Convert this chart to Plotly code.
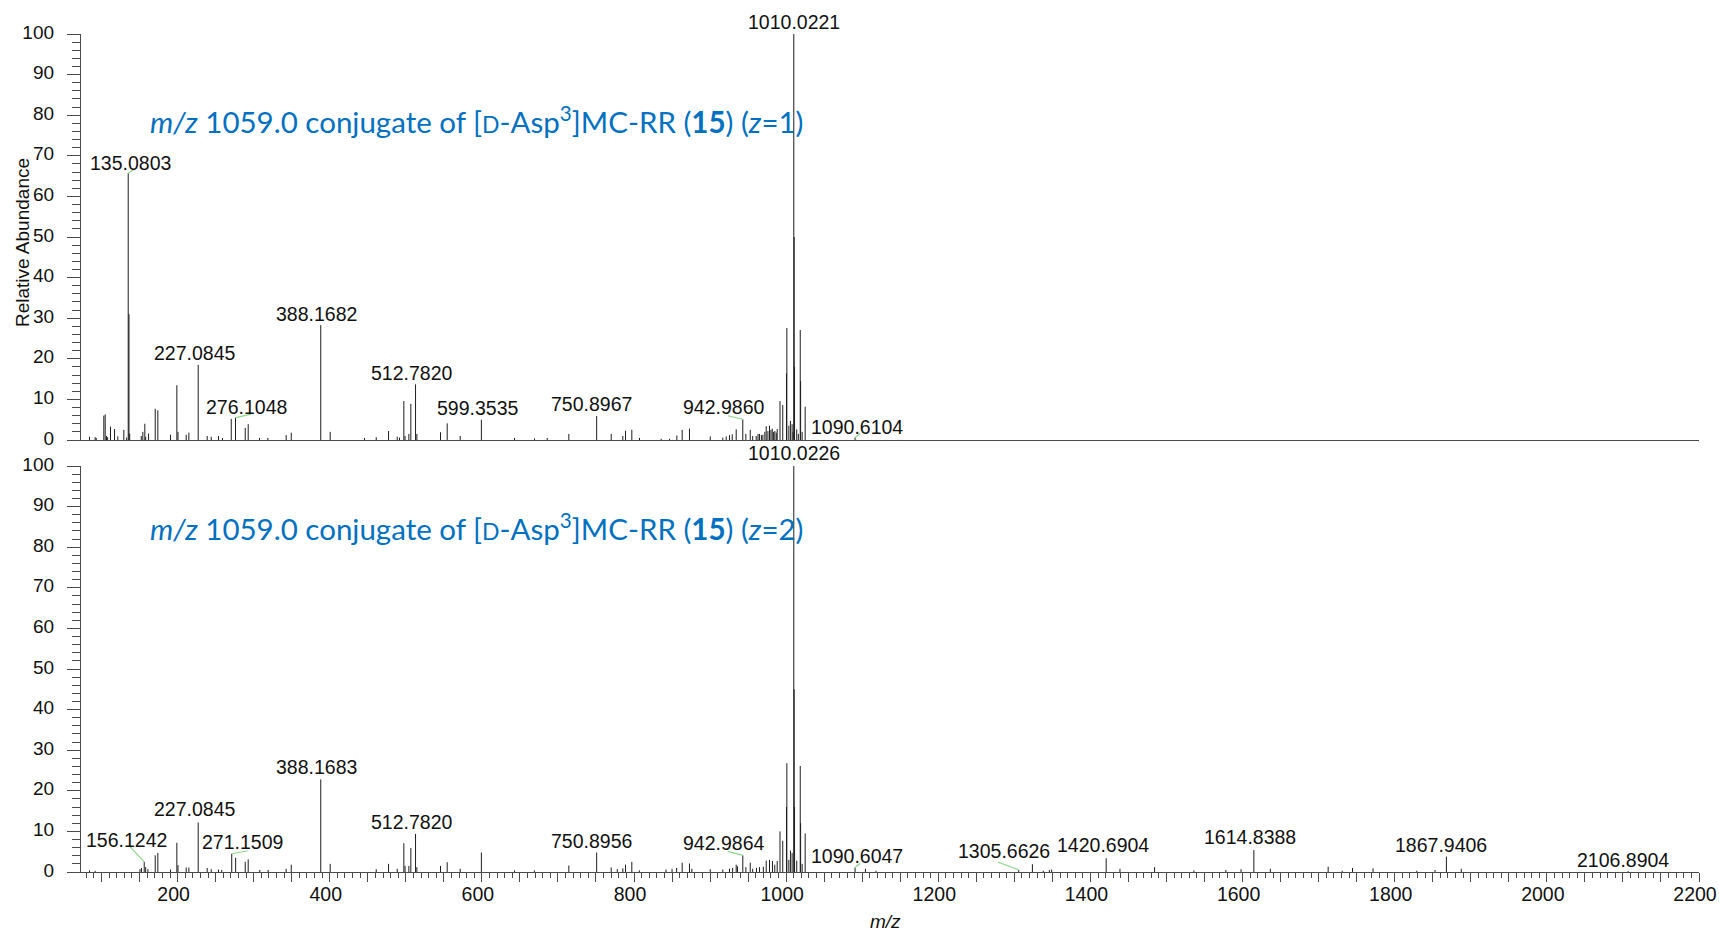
import plotly.graph_objects as go

# ---------------- spectrum data (m/z, relative abundance %) ----------------
# z = 1 precursor
mz_z1 = [84.2, 91.6, 93.0, 103.0, 104.8, 106.5, 108.0, 111.8, 117.1, 121.4, 129.3, 133.0,
         135.0803, 136.08, 137.0, 152.2, 154.3, 156.9, 158.0, 161.8, 170.6, 174.0, 190.7,
         199.0, 200.5, 211.3, 214.8, 227.0845, 238.9, 244.2, 253.8, 259.0, 270.5, 276.1048,
         288.9, 292.8, 307.7, 318.6, 342.7, 349.4, 388.1682, 400.6, 445.7, 461.1, 477.3,
         488.7, 491.7, 497.4, 499.0, 504.0, 506.6, 512.7820, 514.5, 545.6, 554.4, 571.5,
         599.3535, 642.9, 669.2, 685.9, 714.3, 750.8967, 770.0, 785.3, 788.8, 797.1, 807.2,
         835.7, 846.7, 856.3, 863.3, 872.9, 900.2, 916.7, 921.2, 925.5, 929.1, 934.3,
         942.9860, 947.0, 952.8, 956.0, 960.6, 963.0, 965.0, 967.5, 969.4, 972.0, 973.8,
         976.0, 978.1, 980.0, 981.7, 983.5, 985.1, 987.0, 988.2, 991.9, 995.5, 1000.4,
         1000.9, 1003.5, 1005.6, 1007.8, 1009.0, 1010.0221, 1010.52, 1011.02, 1013.9,
         1016.0, 1018.5, 1019.0, 1021.0, 1025.0, 1090.6104]
int_z1 = [0.8, 0.7, 0.5, 6.0, 6.3, 1.0, 0.7, 3.3, 2.7, 0.9, 2.5, 0.6,
          65.7, 31.0, 1.6, 1.0, 2.0, 4.0, 0.8, 1.6, 7.7, 7.3, 1.3,
          13.5, 2.0, 1.3, 1.8, 18.5, 1.0, 0.8, 1.0, 0.5, 5.2, 5.5,
          3.0, 3.9, 0.5, 0.5, 1.2, 1.8, 28.3, 2.0, 0.5, 0.7, 2.2,
          0.8, 0.6, 9.6, 1.0, 1.5, 8.9, 13.7, 1.5, 1.9, 4.1, 1.0,
          5.0, 0.5, 0.4, 0.5, 1.5, 5.9, 1.5, 1.0, 2.3, 2.5, 0.5,
          0.3, 0.3, 1.1, 2.5, 2.8, 0.9, 0.6, 0.9, 1.2, 1.4, 2.6,
          5.1, 1.5, 2.5, 1.0, 1.0, 1.5, 1.5, 1.2, 1.3, 2.0, 3.4,
          2.2, 3.5, 2.5, 2.8, 2.0, 2.2, 1.8, 2.7, 9.6, 8.6, 16.4,
          27.6, 3.5, 4.7, 3.9, 2.0, 100.0, 50.0, 18.0, 2.6,
          1.5, 27.1, 14.5, 2.0, 8.2, 0.6]

# z = 2 precursor
mz_z2 = [84.2, 91.6, 150.5, 152.5, 156.1242, 158.0, 161.0, 170.6, 174.0, 190.7, 199.0,
         200.5, 211.3, 214.8, 227.0845, 238.9, 244.2, 253.8, 258.0, 271.1509, 276.3, 288.9,
         292.8, 308.0, 319.0, 342.7, 349.4, 388.1683, 400.6, 461.1, 477.3, 488.7, 497.4,
         499.0, 504.0, 506.6, 512.7820, 514.5, 545.6, 554.4, 571.5, 599.35, 642.9, 669.0,
         714.3, 750.8956, 770.0, 778.0, 785.3, 788.8, 797.1, 807.0, 842.0, 850.0, 856.0,
         863.3, 872.9, 876.0, 900.2, 916.7, 925.5, 929.6, 934.3, 936.0, 942.9864, 947.0,
         952.8, 956.0, 961.0, 965.0, 970.0, 973.8, 978.1, 982.0, 985.0, 988.2, 991.9, 995.5,
         1000.4, 1000.9, 1003.5, 1005.6, 1007.8, 1010.0226, 1010.52, 1011.02, 1013.9,
         1018.5, 1019.0, 1021.0, 1025.0, 1090.6047, 1104.2, 1118.0, 1305.6626, 1323.7,
         1338.0, 1346.0, 1349.0, 1420.6904, 1438.8, 1484.3, 1536.0, 1578.0, 1598.0,
         1614.8388, 1636.5, 1712.5, 1731.0, 1744.5, 1771.5, 1829.0, 1853.0, 1867.9406,
         1887.5, 2106.8904]
int_z2 = [0.4, 0.3, 0.7, 1.0, 2.5, 1.2, 0.7, 4.1, 4.7, 0.6, 7.2,
          1.7, 1.1, 1.1, 12.2, 1.0, 0.7, 0.6, 0.5, 4.5, 3.5, 2.5,
          3.1, 0.5, 0.5, 0.8, 1.8, 22.8, 2.0, 0.7, 2.0, 0.8, 7.1,
          1.5, 1.5, 5.9, 9.4, 1.2, 1.5, 2.4, 0.8, 4.8, 0.4, 0.4,
          1.6, 4.8, 1.1, 0.7, 0.9, 1.8, 2.5, 0.4, 0.6, 0.8, 1.0,
          2.3, 2.1, 0.8, 0.7, 0.6, 0.8, 1.0, 1.8, 1.4, 4.1, 1.2,
          2.3, 0.8, 1.0, 1.2, 1.3, 2.8, 3.0, 2.7, 1.8, 2.7, 10.0, 7.7,
          16.0, 26.8, 3.0, 5.3, 4.7, 100.0, 45.0, 16.0, 2.8,
          26.1, 12.0, 2.0, 9.5, 1.1, 0.8, 0.3, 0.5, 1.9,
          0.3, 0.5, 0.6, 3.4, 0.8, 1.2, 0.4, 0.5, 0.7,
          5.4, 0.8, 1.3, 0.3, 1.0, 0.9, 0.3, 0.5, 3.8,
          0.8, 0.2]

# annotated peaks
labels_z1 = [1010.0221, 135.0803, 388.1682, 227.0845, 276.1048, 512.7820, 599.3535,
             750.8967, 942.9860, 1090.6104]
labels_z2 = [1010.0226, 388.1683, 227.0845, 512.7820, 156.1242, 271.1509, 750.8956,
             942.9864, 1090.6047, 1305.6626, 1420.6904, 1614.8388, 1867.9406, 2106.8904]

x_tick_labels = [200, 400, 600, 800, 1000, 1200, 1400, 1600, 1800, 2000, 2200]
y_tick_labels = [0, 10, 20, 30, 40, 50, 60, 70, 80, 90, 100]

titles = ["<i>m/z</i> 1059.0 conjugate of [<span style='font-size:23px'>D</span>-Asp<sup>3</sup>]MC-RR (<b>15</b>) (<i>z</i>=1)",
          "<i>m/z</i> 1059.0 conjugate of [<span style='font-size:23px'>D</span>-Asp<sup>3</sup>]MC-RR (<b>15</b>) (<i>z</i>=2)"]

# ---------------- label placement (pixel offsets from peak apex) ----------------
label_offsets_z1 = [(0, 12), (2, 10), (-4, 11), (-4, 12), (11, 11), (-4, 11), (-4, 12),
                    (-5, 12), (-19, 12), (2, 11)]
leaders_z1 = {135.0803: (6, 4), 276.1048: (16, 3.5), 942.9860: (-15, 3.5), 1090.6104: (5, 4)}
label_offsets_z2 = [(0, 13), (-4, 12), (-4, 13), (-4, 12), (-18, 22), (11, 12), (-5, 12),
                    (-19, 12), (2, 12), (-15, 19), (-3, 13), (-4, 13), (-5, 12), (-5, 11)]
leaders_z2 = {156.1242: (-15, 16), 271.1509: (16, 3), 942.9864: (-15, 4),
              1090.6047: (5, 4), 1305.6626: (-21, 8)}

# ---------------- geometry ----------------
W, H = 1719, 931
PX_L, PX_R = 81, 1699
PANELS = [(440, 34), (872, 466)]  # (y of 0 %, y of 100 %) in pixels
TITLE_Y = [120, 527]
X_RANGE = [73, 2200]
AXIS_COLOR = "#4a4a4a"
STICK_COLOR = "#1e1e1e"
LEADER_COLOR = "#8fd68f"
TITLE_COLOR = "#0070C0"
FONT = "Liberation Sans, Arial, sans-serif"


def sticks(mz, inten):
    xs, ys = [], []
    for m, i in zip(mz, inten):
        xs += [m, m, None]
        ys += [0, i, None]
    return xs, ys


fig = go.Figure()

spectra = [(mz_z1, int_z1, labels_z1, label_offsets_z1, leaders_z1),
           (mz_z2, int_z2, labels_z2, label_offsets_z2, leaders_z2)]

annotations = []
shapes = []
for k, (mz, inten, labs, offs, leads) in enumerate(spectra):
    xref = "x" if k == 0 else "x2"
    yref = "y" if k == 0 else "y2"
    xs, ys = sticks(mz, inten)
    fig.add_trace(go.Scatter(x=xs, y=ys, mode="lines", xaxis=xref, yaxis=yref,
                             line=dict(color=STICK_COLOR, width=1), hoverinfo="skip",
                             showlegend=False))
    lookup = dict(zip(mz, inten))
    for m, (dx, dy) in zip(labs, offs):
        annotations.append(dict(x=m, y=lookup[m], xref=xref, yref=yref, text=f"{m:.4f}",
                                showarrow=False, xanchor="center", yanchor="middle",
                                xshift=dx, yshift=dy,
                                font=dict(family=FONT, size=19.5, color="#111111")))
        if m in leads:
            lx, ly = leads[m]
            shapes.append(dict(type="line", xref=xref, yref=yref, xsizemode="pixel",
                               ysizemode="pixel", xanchor=m, yanchor=lookup[m],
                               x0=0, y0=0, x1=lx, y1=ly,
                               line=dict(color=LEADER_COLOR, width=1.2)))
    annotations.append(dict(x=148 / W, y=1 - TITLE_Y[k] / H, xref="paper", yref="paper",
                            text=titles[k], showarrow=False, xanchor="left",
                            yanchor="middle",
                            font=dict(family="Lato, Carlito, sans-serif", size=29.5,
                                      color=TITLE_COLOR)))

annotations.append(dict(x=22 / W, y=1 - 243 / H, xref="paper", yref="paper",
                        text="Relative Abundance", textangle=-90, showarrow=False,
                        xanchor="center", yanchor="middle",
                        font=dict(family=FONT, size=19, color="#111111")))
annotations.append(dict(x=886 / W, y=1 - 921 / H, xref="paper", yref="paper",
                        text="<i>m/z</i>", showarrow=False, xanchor="center",
                        yanchor="middle", font=dict(family=FONT, size=19, color="#111111")))

x_dom = [PX_L / W, PX_R / W]

yaxis_common = dict(range=[0, 100], showgrid=False, zeroline=False, showline=True,
                     linecolor=AXIS_COLOR, linewidth=1.3, ticks="outside", ticklen=13,
                     tickwidth=1.2, tickcolor=AXIS_COLOR, tickvals=y_tick_labels,
                     ticktext=[str(v) for v in y_tick_labels], ticklabelstandoff=9,
                     ticklabelshift=-2,
                     tickfont=dict(family=FONT, size=19, color="#111111"),
                     minor=dict(dtick=2, tick0=0, ticks="outside", ticklen=8,
                                tickwidth=1, tickcolor=AXIS_COLOR),
                     automargin=False, fixedrange=True)

layout_axes = {}
for k, (y0px, y100px) in enumerate(PANELS):
    suffix = "" if k == 0 else "2"
    ax_x = dict(domain=x_dom, range=X_RANGE, showgrid=False, zeroline=False,
                showline=True, linecolor=AXIS_COLOR, linewidth=1.3,
                anchor="y" + suffix, automargin=False, fixedrange=True)
    if k == 0:
        ax_x.update(ticks="", showticklabels=False)
    else:
        ax_x.update(ticks="outside", ticklen=9, tickwidth=1.2, tickcolor=AXIS_COLOR,
                    tickvals=x_tick_labels, ticktext=[str(v) for v in x_tick_labels],
                    ticklabelstandoff=-5, ticklabelshift=-4, ticklabeloverflow="allow",
                    tickfont=dict(family=FONT, size=19.5, color="#111111"),
                    minor=dict(tickmode="linear", tick0=0, dtick=10, ticks="outside",
                               ticklen=5, tickwidth=1, tickcolor=AXIS_COLOR))
    ax_y = dict(yaxis_common)
    ax_y.update(domain=[1 - y0px / H, 1 - y100px / H], anchor="x" + suffix)
    layout_axes["xaxis" + suffix] = ax_x
    layout_axes["yaxis" + suffix] = ax_y

# unlabeled 50-unit ticks on the lower m/z axis
layout_axes["xaxis3"] = dict(overlaying="x2", anchor="y2", domain=x_dom, range=X_RANGE,
                             tickmode="linear", tick0=0, dtick=50, ticks="outside",
                             ticklen=9, tickwidth=1.2, tickcolor=AXIS_COLOR,
                             showticklabels=False, showline=False, showgrid=False,
                             zeroline=False, automargin=False, fixedrange=True)
fig.add_trace(go.Scatter(x=[None], y=[None], xaxis="x3", yaxis="y2", showlegend=False,
                         hoverinfo="skip"))

fig.update_layout(width=W, height=H, margin=dict(l=0, r=0, t=0, b=0, autoexpand=False),
                  paper_bgcolor="white", plot_bgcolor="white",
                  annotations=annotations, shapes=shapes, **layout_axes)

fig.write_html("out.html")
